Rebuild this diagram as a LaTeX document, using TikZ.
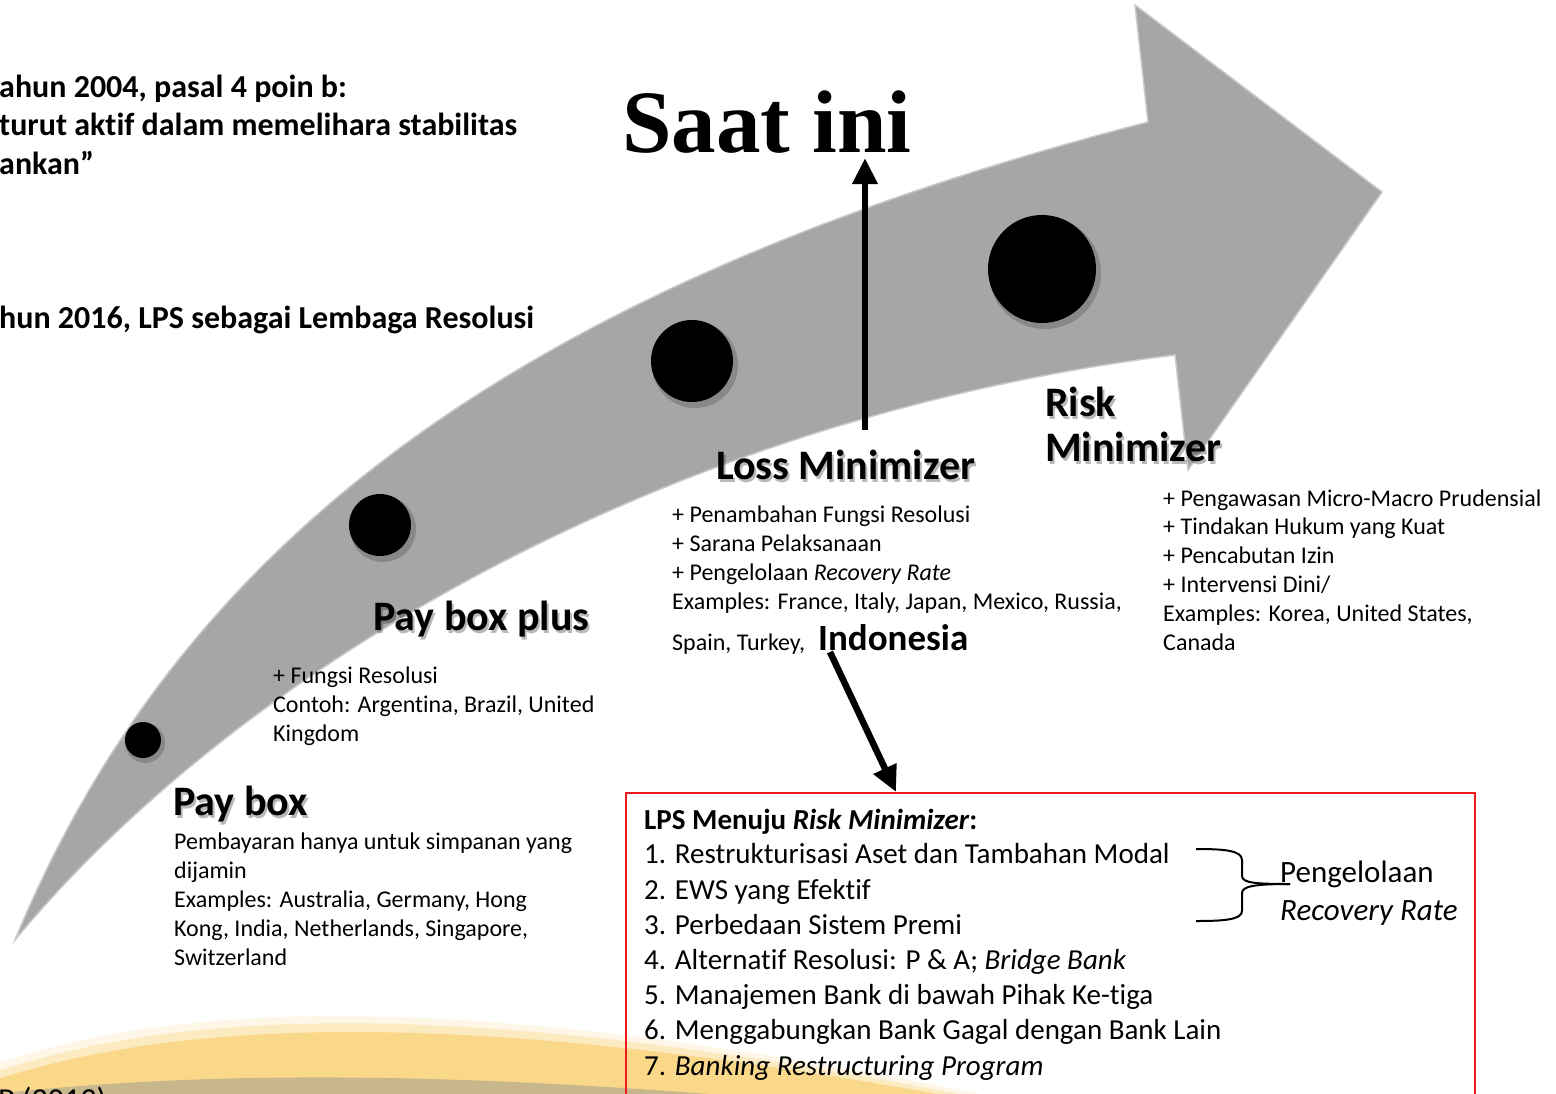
\documentclass[tikz,border=0pt]{standalone}
\usepackage{fontspec}
\setmainfont{Carlito}[RawFeature={-liga;-clig;-calt;-dlig}]
\newfontfamily\serifbold{Liberation Serif}
\usetikzlibrary{arrows.meta}
\definecolor{arrowgray}{HTML}{A6A6A6}
\definecolor{edgegray}{HTML}{C9C9C9}
\definecolor{glowyellow}{HTML}{FAD889}
\definecolor{glowtan}{HTML}{C8B68C}
\definecolor{boxred}{HTML}{EE1C1C}
% multi-line nodes: anchor "base west" = baseline of the LAST line
\tikzset{
  txt/.style={inner sep=0pt, anchor=base west, align=left, font=\fontsize{24}{29}\selectfont},
  txtr/.style={inner sep=0pt, anchor=base west, align=left, font=\fontsize{24}{28.8}\selectfont},
  head/.style={inner sep=0pt, anchor=base west, align=left, font=\fontsize{42}{45}\selectfont\bfseries},
  headshadow/.style={head, text=black, opacity=0.28},
  topnote/.style={inner sep=0pt, anchor=base west, align=left, font=\fontsize{32}{38.5}\selectfont\bfseries},
  boxtxt/.style={inner sep=0pt, anchor=base west, align=left, font=\fontsize{29}{35.2}\selectfont},
  dot/.style={circle, fill=black, inner sep=0pt},
  bigarrow/.style={line width=6.5pt, -{Triangle[length=26pt,width=24pt]}},
}
\begin{document}
\begin{tikzpicture}[x=1pt,y=-1pt]
\useasboundingbox (0,0) rectangle (1556,1093);
\clip (0,0) rectangle (1556,1093);
\fill[white] (0,0) rectangle (1556,1093);

% bottom glow
\fill[glowyellow, opacity=0.2] (-5,1100) -- (-5,1064) .. controls (200,995) and (500,995) .. (1010,1100) -- cycle;
\fill[glowyellow, opacity=0.4] (-5,1100) -- (-5,1072) .. controls (200,1003) and (500,1003) .. (990,1100) -- cycle;
\fill[glowyellow] (-5,1100) -- (-5,1080) .. controls (200,1013) and (500,1013) .. (970,1100) -- cycle;
\fill[glowtan] (-5,1100) -- (-5,1094) .. controls (200,1071) and (450,1071) .. (780,1100) -- cycle;

% big curved arrow
\fill[arrowgray] (15,940) .. controls (180,540) and (520,285) .. (1148,122) -- (1135,5) -- (1382,192) -- (1188,470) -- (1175,355) .. controls (650,420) and (230,680) .. (15,940) -- cycle;
\draw[edgegray, line width=1.5pt] (15,940) .. controls (180,540) and (520,285) .. (1148,122) -- (1135,5) -- (1382,192) -- (1188,470) -- (1175,355) .. controls (650,420) and (230,680) .. (15,940) -- cycle;

% dots
\fill[black, opacity=0.18] (145,743) circle (20);
\fill[black, opacity=0.18] (383,529) circle (33);
\fill[black, opacity=0.18] (695,365) circle (43);
\fill[black, opacity=0.18] (1045,273) circle (56);
\node[dot, minimum size=36pt] (d1) at (143,740) {};
\node[dot, minimum size=62pt] (d2) at (380,525) {};
\node[dot, minimum size=82pt] (d3) at (692,361) {};
\node[dot, minimum size=108pt] (d4) at (1042,269) {};

% top left notes
\node[topnote] (note1) at (-1,174) {ahun 2004, pasal 4 poin b:\\turut aktif dalam memelihara stabilitas\\ankan”};
\node[topnote] (note2) at (-1,328) {hun 2016, LPS sebagai Lembaga Resolusi};

% Saat ini
\node[inner sep=0pt, anchor=base west, font=\serifbold\bfseries\fontsize{89}{90}\selectfont] (saat) at (622,152) {Saat ini};

% headings with shadows
\node[headshadow] (paybS) at (175,818) {Pay box};
\node[head] (payb) at (173,815) {Pay box};
\node[headshadow] (payplusS) at (375,633) {Pay box plus};
\node[head] (payplus) at (373,630) {Pay box plus};
\node[headshadow] (lossS) at (718,482) {Loss Minimizer};
\node[head] (loss) at (716,479) {Loss Minimizer};
\node[headshadow] (riskS) at (1047,464) {Risk\\Minimizer};
\node[head] (risk) at (1045,461) {Risk\\Minimizer};

% descriptions
\node[txt] (paybT) at (174,965) {Pembayaran hanya untuk simpanan yang\\dijamin\\Examples: Australia, Germany, Hong\\Kong, India, Netherlands, Singapore,\\Switzerland};
\node[txt] (payplusT) at (273,741) {+ Fungsi Resolusi\\Contoh: Argentina, Brazil, United\\Kingdom};
\node[txt] (lossT) at (672,609) {+ Penambahan Fungsi Resolusi\\+ Sarana Pelaksanaan\\+ Pengelolaan \textit{Recovery Rate}\\Examples: France, Italy, Japan, Mexico, Russia,};
\node[txt] (lossT2) at (672,650) {Spain, Turkey,};
\node[inner sep=0pt, anchor=base west, font=\fontsize{37}{40}\selectfont\bfseries] (indo) at (818,650) {Indonesia};
\node[txtr] (riskT) at (1163,650) {+ Pengawasan Micro-Macro Prudensial\\+ Tindakan Hukum yang Kuat\\+ Pencabutan Izin\\+ Intervensi Dini/\\Examples: Korea, United States,\\Canada};

% arrows
\coordinate (vbot) at (865,430);
\coordinate (vtop) at (865,158);
\draw[bigarrow] (vbot) -- (vtop);

% red box
\node[draw=boxred, line width=1.6pt, inner sep=0pt, anchor=north west, minimum width=849pt, minimum height=330pt] (box) at (625,792) {};
\coordinate (dstart) at (830,652);
\coordinate (dend) at (896,792);
\draw[bigarrow] (dstart) -- (dend);

\node[inner sep=0pt, anchor=base west, font=\fontsize{29}{35}\selectfont\bfseries] (boxtitle) at (644,829) {LPS Menuju \textit{Risk Minimizer}:};
\node[boxtxt] (boxitems) at (644,1075) {1. Restrukturisasi Aset dan Tambahan Modal\\2. EWS yang Efektif\\3. Perbedaan Sistem Premi\\4. Alternatif Resolusi: P \& A; \textit{Bridge Bank}\\5. Manajemen Bank di bawah Pihak Ke-tiga\\6. Menggabungkan Bank Gagal dengan Bank Lain\\7. \textit{Banking Restructuring Program}};

% brace
\coordinate (brtop) at (1196,849);
\coordinate (brtip) at (1290,884);
\coordinate (brbot) at (1196,921);
\draw[line width=2pt] (brtop) .. controls (1222,849) and (1242,850) .. (1242,860) -- (1242,876) .. controls (1242,883) and (1256,884) .. (brtip);
\draw[line width=2pt] (brtip) .. controls (1256,884) and (1242,886) .. (1242,893) -- (1242,911) .. controls (1242,920) and (1222,921) .. (brbot);
\node[inner sep=0pt, anchor=base west, align=left, font=\fontsize{31}{38}\selectfont] (pengel) at (1280,920) {Pengelolaan\\\textit{Recovery Rate}};

% source note (cut off)
\node[inner sep=0pt, anchor=base west, font=\fontsize{32}{38}\selectfont] (src) at (-2,1110) {P (2013)};
\end{tikzpicture}
\end{document}
